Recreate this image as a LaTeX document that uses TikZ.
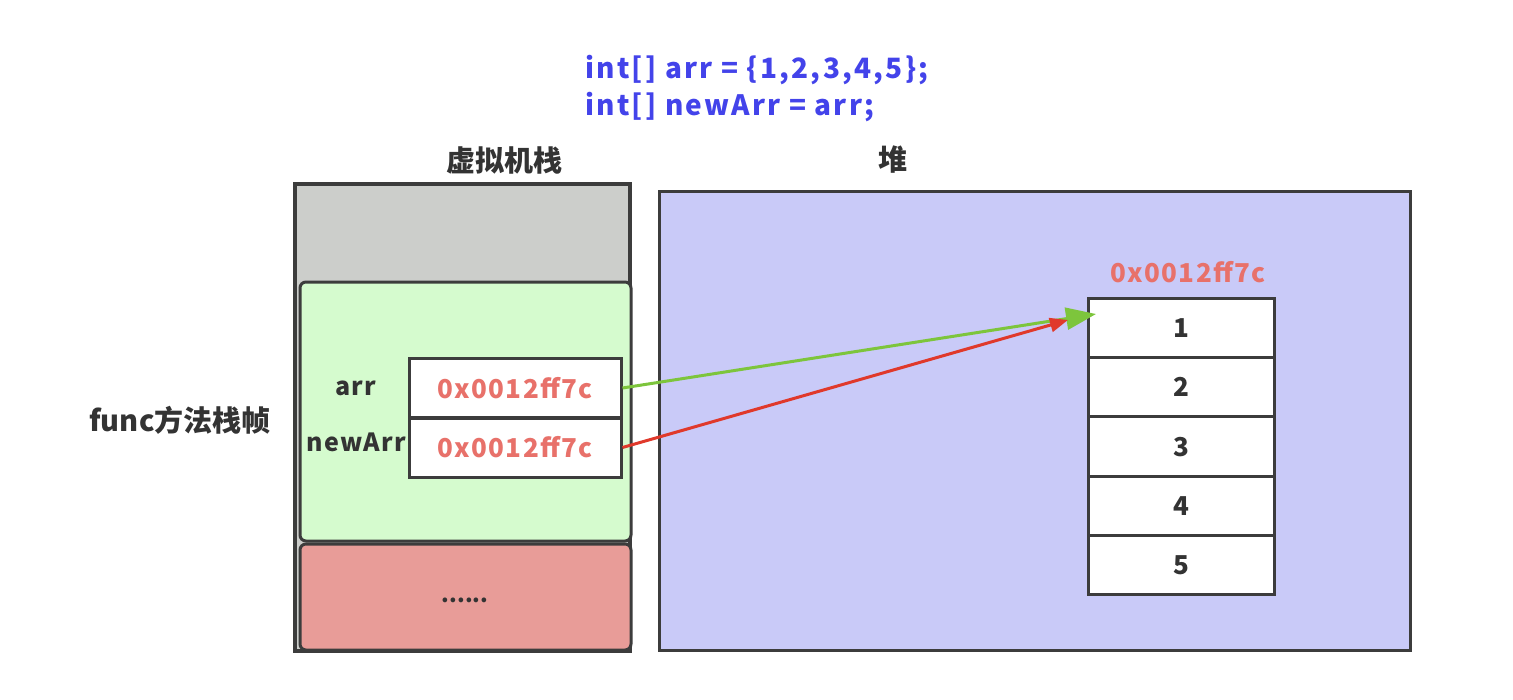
\documentclass[tikz,border=0pt]{standalone}
\usepackage{fontspec}
\setmainfont{Noto Sans CJK SC}
\newfontfamily\codefont{Noto Sans CJK SC}[LetterSpace=8]
\newfontfamily\addrfont{Noto Sans CJK SC}[LetterSpace=5]
\usetikzlibrary{arrows.meta}

\definecolor{framegray}{HTML}{3C3C3C}
\definecolor{textgray}{HTML}{333333}
\definecolor{stackgray}{HTML}{CCCECB}
\definecolor{framegreen}{HTML}{D5FBCE}
\definecolor{framered}{HTML}{E89C98}
\definecolor{heapblue}{HTML}{C9CAF8}
\definecolor{addrred}{HTML}{E8716A}
\definecolor{codeblue}{HTML}{4343EA}
\definecolor{linkgreen}{HTML}{7DC53C}
\definecolor{linkred}{HTML}{E0392B}

\tikzset{
	valbox/.style={draw=framegray, fill=white, line width=3pt, minimum width=212pt, minimum height=59pt, inner sep=0pt, text=addrred, font=\addrfont\fontsize{26}{30}\selectfont\bfseries},
	cell/.style={draw=framegray, fill=white, line width=3pt, minimum width=186pt, minimum height=59.3pt, inner sep=0pt, text=textgray, font=\fontsize{26}{30}\selectfont\bfseries},
	lbl/.style={text=textgray, inner sep=0pt, font=\addrfont\fontsize{25}{29}\selectfont\bfseries},
	title/.style={text=textgray, inner sep=0pt, font=\fontsize{29}{33}\selectfont\bfseries}
}

\begin{document}
\begin{tikzpicture}[x=1pt,y=-1pt]
	\useasboundingbox (0,0) rectangle (1513,699);
	% stack and heap
	\draw[draw=framegray, fill=stackgray, line width=4pt] (295,184) rectangle (630,651);
	\draw[draw=framegray, fill=framegreen, line width=3pt, rounded corners=6pt] (300,282) rectangle (631,541);
	\draw[draw=framegray, fill=framered, line width=3pt, rounded corners=6pt] (300,544) rectangle (631,650);
	\draw[draw=framegray, fill=heapblue, line width=3pt] (659,191) rectangle (1410,650);
	% code
	\node[text=codeblue, inner sep=0pt, anchor=west, align=left, font=\codefont\fontsize{28}{37}\selectfont\bfseries] (code) at (585,89) {int[] arr = \{1,2,3,4,5\};\\int[] newArr = arr;};
	\node[title] (stacktitle) at (504,160) {虚拟机栈};
	\node[title] (heaptitle) at (893,160) {堆};
	\node[title] (frametitle) at (180,420) {func方法栈帧};
	\node[text=textgray, inner sep=0pt, font=\fontsize{22}{26}\selectfont\bfseries] (dots) at (465,600) {......};
	% references
	\node[valbox] (arrval) at (515,388) {0x0012ff7c};
	\node[valbox] (newval) at (515,447.5) {0x0012ff7c};
	\node[lbl] (arrname) at (356,388) {arr};
	\node[lbl] (newname) at (356,442) {newArr};
	% array in heap
	\node[text=addrred, inner sep=0pt, font=\addrfont\fontsize{26}{30}\selectfont\bfseries] (addr) at (1188,272) {0x0012ff7c};
	\foreach \i in {1,...,5}
		\node[cell] (c\i) at (1181,{328+59.3*(\i-1)}) {\i};
	\coordinate (gtip) at (1096,314);
	\coordinate (rtip) at (1068,320);
	\draw[linkgreen, line width=3pt, -{Triangle[length=30pt,width=22pt]}] (arrval.east) -- (gtip);
	\draw[linkred, line width=3pt, -{Triangle[length=18pt,width=14pt]}] (newval.east) -- (rtip);
\end{tikzpicture}
\end{document}
